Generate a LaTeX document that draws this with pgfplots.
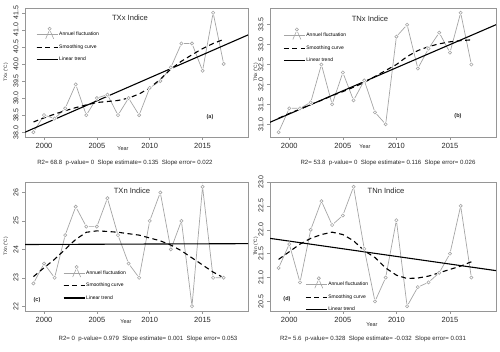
\documentclass[border=0pt]{standalone}
\usepackage{fontspec}
\setmainfont{Liberation Sans}
\usepackage{pgfplots}
\pgfplotsset{compat=1.18}

\definecolor{fluctgray}{RGB}{165,165,165}
\definecolor{boxgray}{RGB}{150,150,150}
\definecolor{txt}{RGB}{40,40,40}

\newcommand{\fs}[1]{\fontsize{#1}{#1}\selectfont}

% open circle with a white gap round it, like R's type="b"
\pgfdeclareplotmark{gapo}{%
  \pgfpathcircle{\pgfpointorigin}{2.6pt}%
  \pgfsetfillcolor{white}\pgfusepathqfill
  \pgfpathcircle{\pgfpointorigin}{\pgfplotmarksize}%
  \pgfusepathqstroke}

\pgfplotsset{
  panel/.style={
    scale only axis, width=223pt, height=129pt, anchor=south west,
    axis line style={boxgray, line width=0.5pt},
    tick align=outside, xtick pos=bottom, ytick pos=left,
    major tick length=3pt, tick style={boxgray, line width=0.5pt},
    xmin=1998.2, xmax=2019.3, xtick={2000,2005,2010,2015},
    /pgf/number format/assume math mode=true,
    x tick label style={/pgf/number format/1000 sep={}, font=\fs{7.5}, text=txt},
    y tick label style={rotate=90, anchor=south, font=\fs{7}, text=txt},
    legend style={draw=none, fill=none, font=\fs{5}, anchor=north west,
      row sep=5pt, inner sep=0pt, nodes={inner sep=1pt}},
    legend cell align=left,
  },
  right/.style={width=226pt},
  onedec/.style={y tick label style={/pgf/number format/.cd, fixed, fixed zerofill, precision=1}},
  fluct/.style={color=fluctgray, line width=0.7pt, mark=gapo, mark size=1.6pt,
    mark options={line width=0.6pt},
    legend image code/.code={
      \path (0pt,0pt) -- (21pt,0pt);
      \draw[fluctgray, line width=0.6pt] (9pt,-4pt) -- (12.3pt,3.5pt) (13.7pt,3.5pt) -- (17pt,-4pt);
      \draw[fluctgray, line width=0.6pt] (13pt,6pt) circle (1.6pt);}},
  smoothc/.style={black, line width=1.1pt, dash pattern=on 5pt off 3.5pt,
    legend image code/.code={
      \path (0pt,0pt) -- (21pt,0pt);
      \draw[black, line width=1.1pt, dash pattern=on 5pt off 3.5pt] (0pt,0pt) -- (17pt,0pt);}},
  trend/.style={black, line width=1.1pt,
    legend image code/.code={
      \path (0pt,0pt) -- (21pt,0pt);
      \draw[black, line width=1.1pt] (4pt,0pt) -- (19pt,0pt);}},
}

\begin{document}
\begin{tikzpicture}

% (a) TXx
\begin{axis}[panel, onedec, at={(25pt,215pt)},
  ymin=37.86, ymax=41.64, ytick={38,38.5,...,41.5},
  legend style={at={(0.049,0.855)}}]
\addplot[fluct] coordinates {
 (1999,38.0) (2000,38.5) (2001,38.4) (2002,38.7) (2003,39.4) (2004,38.5)
 (2005,39.0) (2006,39.1) (2007,38.5) (2008,39.0) (2009,38.5) (2010,39.3)
 (2011,39.5) (2012,39.9) (2013,40.6) (2014,40.6) (2015,39.8) (2016,41.5) (2017,40.0)};
\addplot[smoothc] coordinates {
 (1999,38.30) (2000,38.42) (2001,38.53) (2002,38.63) (2003,38.72) (2004,38.80)
 (2005,38.87) (2006,38.90) (2007,38.93) (2008,39.00) (2009,39.12) (2010,39.30)
 (2011,39.55) (2012,39.85) (2013,40.08) (2014,40.27) (2015,40.45) (2016,40.60) (2017,40.72)};
\addplot[trend] coordinates {(1998.2,38.00) (2019.3,40.85)};
\legend{Annuel fluctuation, Smoothing curve, Linear trend}
\end{axis}

% (b) TNx
\begin{axis}[panel, right, onedec, at={(270pt,215pt)},
  ymin=30.68, ymax=33.92, ytick={31,31.5,...,33.5},
  legend style={at={(0.058,0.85)}}]
\addplot[fluct] coordinates {
 (1999,30.8) (2000,31.4) (2001,31.4) (2002,31.55) (2003,32.5) (2004,31.5)
 (2005,32.3) (2006,31.6) (2007,32.1) (2008,31.3) (2009,31.0) (2010,33.2)
 (2011,33.5) (2012,32.4) (2013,32.9) (2014,33.3) (2015,32.8) (2016,33.8) (2017,32.5)};
\addplot[smoothc] coordinates {
 (1999,31.15) (2000,31.27) (2001,31.38) (2002,31.50) (2003,31.60) (2004,31.72)
 (2005,31.82) (2006,31.93) (2007,32.05) (2008,32.20) (2009,32.35) (2010,32.50)
 (2011,32.70) (2012,32.85) (2013,32.95) (2014,33.02) (2015,33.07) (2016,33.10) (2017,33.12)};
\addplot[trend] coordinates {(1998.2,31.05) (2019.3,33.50)};
\legend{Annuel fluctuation, Smoothing curve, Linear trend}
\end{axis}

% (c) TXn
\begin{axis}[panel, at={(25pt,41pt)},
  ymin=21.83, ymax=26.37, ytick={22,23,24,25,26},
  legend style={at={(0.17,0.357)}}]
\addplot[fluct] coordinates {
 (1999,22.8) (2000,23.5) (2001,23.0) (2002,24.5) (2003,25.5) (2004,24.8)
 (2005,24.8) (2006,25.8) (2007,24.5) (2008,23.5) (2009,23.0) (2010,25.0)
 (2011,26.0) (2012,24.0) (2013,25.0) (2014,22.0) (2015,26.2) (2016,23.0) (2017,23.0)};
\addplot[smoothc] coordinates {
 (1999,23.04) (2000,23.35) (2001,23.65) (2002,24.00) (2003,24.35) (2004,24.60)
 (2005,24.65) (2006,24.63) (2007,24.60) (2008,24.55) (2009,24.50) (2010,24.40)
 (2011,24.30) (2012,24.15) (2013,23.95) (2014,23.70) (2015,23.45) (2016,23.20) (2017,23.00)};
\addplot[trend] coordinates {(1998.2,24.17) (2019.3,24.20)};
\legend{Annuel fluctuation, Smoothing curve, Linear trend}
\end{axis}

% (d) TNn
\begin{axis}[panel, right, onedec, at={(270pt,41pt)},
  ymin=20.3, ymax=23.0, ytick={20.5,21,...,23},
  legend style={at={(0.155,0.27)}}]
\addplot[fluct] coordinates {
 (1999,21.2) (2000,21.7) (2001,20.9) (2002,22.0) (2003,22.6) (2004,22.1)
 (2005,22.3) (2006,22.9) (2007,21.6) (2008,20.5) (2009,21.0) (2010,22.2)
 (2011,20.4) (2012,20.8) (2013,20.9) (2014,21.1) (2015,21.5) (2016,22.5) (2017,21.0)};
\addplot[smoothc] coordinates {
 (1999,21.38) (2000,21.54) (2001,21.70) (2002,21.82) (2003,21.90) (2004,21.95)
 (2005,21.90) (2006,21.77) (2007,21.56) (2008,21.42) (2009,21.20) (2010,21.05)
 (2011,20.98) (2012,20.99) (2013,21.03) (2014,21.10) (2015,21.17) (2016,21.24) (2017,21.33)};
\addplot[trend] coordinates {(1998.2,21.82) (2019.3,21.145)};
\legend{Annuel fluctuation, Smoothing curve, Linear trend}
\end{axis}

% titles, labels and notes
\begin{scope}[every node/.style={text=txt, inner sep=0pt}]
\node[font=\fs{7.6}] at (130pt,334pt) {TXx Indice};
\node[font=\fs{7.6}] at (370pt,333.5pt) {TNx Indice};
\node[font=\fs{7.6}] at (132pt,161pt) {TXn Indice};
\node[font=\fs{7.6}] at (386pt,161pt) {TNn Indice};

\node[font=\bfseries\fs{5.5}] at (210pt,235pt) {(a)};
\node[font=\bfseries\fs{5.5}] at (458pt,236pt) {(b)};
\node[font=\bfseries\fs{5.5}] at (37pt,52pt) {(c)};
\node[font=\bfseries\fs{5.5}] at (287pt,53pt) {(d)};

\node[font=\fs{4.8}, rotate=90] at (6pt,279.5pt) {TXx (°C)};
\node[font=\fs{4.8}, rotate=90] at (256pt,279.5pt) {TNx (°C)};
\node[font=\fs{4.8}, rotate=90] at (6pt,105.5pt) {TXn (°C)};
\node[font=\fs{4.8}, rotate=90] at (256pt,105.5pt) {TNn (°C)};

\node[font=\fs{5.5}] at (123pt,203pt) {Year};
\node[font=\fs{5.5}] at (365pt,205pt) {Year};
\node[font=\fs{5.5}] at (126pt,30pt) {Year};
\node[font=\fs{5.5}] at (372pt,27pt) {Year};

\node[font=\fs{6.1}] at (125pt,189pt) {R2= 68.8\ \ p-value= 0\ \ Slope estimate= 0.135\ \ Slope error= 0.022};
\node[font=\fs{6.1}] at (388pt,189pt) {R2= 53.8\ \ p-value= 0\ \ Slope estimate= 0.116\ \ Slope error= 0.026};
\node[font=\fs{6.1}] at (148pt,13pt) {R2= 0\ \ p-value= 0.979\ \ Slope estimate= 0.001\ \ Slope error= 0.053};
\node[font=\fs{6.1}] at (373pt,13pt) {R2= 5.6\ \ p-value= 0.328\ \ Slope estimate= -0.032\ \ Slope error= 0.031};
\end{scope}

\pgfresetboundingbox
\path[use as bounding box] (0,0) rectangle (500pt,352pt);
\end{tikzpicture}
\end{document}
